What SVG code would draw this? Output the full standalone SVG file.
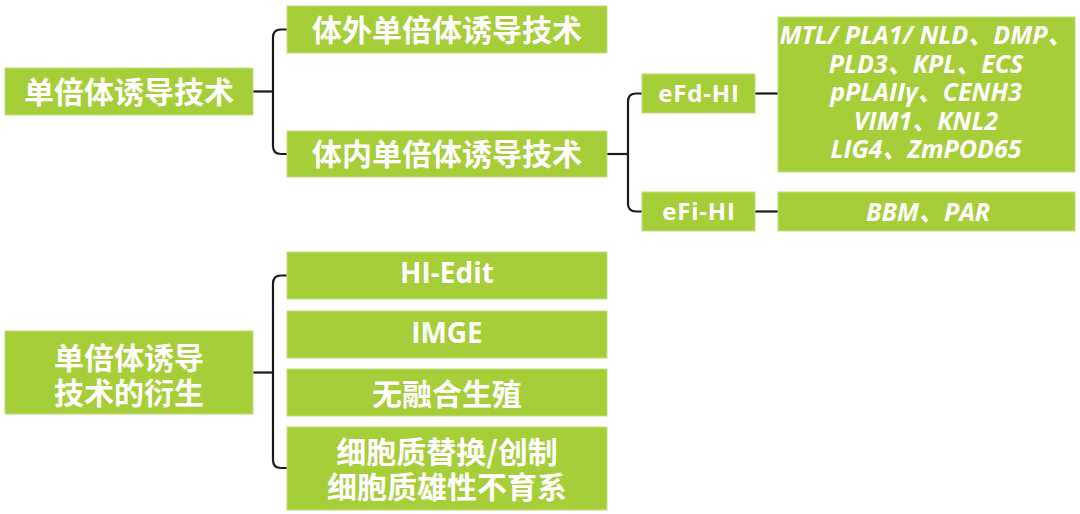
<svg xmlns="http://www.w3.org/2000/svg" width="1080" height="514" viewBox="0 0 1080 514">
<style>
.box{fill:#A6CE39;stroke:#C4DD7E;stroke-width:1}
.cn{font-family:"Noto Sans CJK SC","Open Sans",sans-serif;font-weight:bold;font-size:30px;fill:#fff;text-anchor:middle}
.lt{font-family:"Open Sans","Noto Sans CJK SC",sans-serif;font-weight:bold;fill:#fff;text-anchor:middle}
.gene{font-family:"Open Sans","Noto Sans CJK SC",sans-serif;font-weight:bold;font-style:italic;font-size:25px;fill:#fff;text-anchor:middle}
.conn{fill:none;stroke:#1a1a1a;stroke-width:2.2;stroke-linecap:butt}
</style>
<rect width="1080" height="514" fill="#fff"/>
<g id="connectors">
<path class="conn" d="M253,91.5 H273"/>
<path class="conn" d="M287,29.5 H281 Q273,29.5 273,37.5 V146 Q273,154 281,154 H287"/>
<path class="conn" d="M607,154 H628"/>
<path class="conn" d="M642,93.5 H636 Q628,93.5 628,101.5 V203.5 Q628,211.5 636,211.5 H642"/>
<path class="conn" d="M755,93.5 H778"/>
<path class="conn" d="M755,211.5 H778"/>
<path class="conn" d="M253,372.5 H273"/>
<path class="conn" d="M287,275.5 H281 Q273,275.5 273,283.5 V460 Q273,468 281,468 H287"/>
</g>
<g id="root1">
<rect class="box" x="5" y="68" width="248" height="47"/>
<text class="cn" x="129" y="102.5">单倍体诱导技术</text>
</g>
<g id="invitro">
<rect class="box" x="287" y="6" width="320" height="47"/>
<text class="cn" x="447" y="40.5">体外单倍体诱导技术</text>
</g>
<g id="invivo">
<rect class="box" x="287" y="131" width="320" height="46"/>
<text class="cn" x="447" y="165">体内单倍体诱导技术</text>
</g>
<g id="efd">
<rect class="box" x="642" y="74" width="113" height="39"/>
<text class="lt" x="699" y="102" font-size="24" letter-spacing="0.8">eFd-HI</text>
</g>
<g id="efi">
<rect class="box" x="642" y="192" width="113" height="39"/>
<text class="lt" x="699" y="220" font-size="24" letter-spacing="0.8">eFi-HI</text>
</g>
<g id="genes">
<rect class="box" x="778" y="17" width="297" height="155"/>
<text class="gene" x="926" y="44">MTL/ PLA1/ NLD、DMP、</text>
<text class="gene" x="926" y="72.5">PLD3、KPL、ECS</text>
<text class="gene" x="926" y="101">pPLAIIγ、CENH3</text>
<text class="gene" x="926" y="129.5">VIM1、KNL2</text>
<text class="gene" x="926" y="158">LIG4、ZmPOD65</text>
</g>
<g id="bbm">
<rect class="box" x="778" y="192" width="297" height="39"/>
<text class="gene" x="928" y="221">BBM、PAR</text>
</g>
<g id="root2">
<rect class="box" x="5" y="331" width="248" height="83"/>
<text class="cn" x="129" y="369">单倍体诱导</text>
<text class="cn" x="129" y="404">技术的衍生</text>
</g>
<g id="hiedit">
<rect class="box" x="287" y="252" width="320" height="47"/>
<text class="lt" x="447" y="283" font-size="28">HI-Edit</text>
</g>
<g id="imge">
<rect class="box" x="287" y="311" width="320" height="47"/>
<text class="lt" x="447" y="343" font-size="28">IMGE</text>
</g>
<g id="apomixis">
<rect class="box" x="287" y="369" width="320" height="47"/>
<text class="cn" x="447" y="405">无融合生殖</text>
</g>
<g id="cytoplasm">
<rect class="box" x="287" y="427" width="320" height="83"/>
<text class="cn" x="447" y="463">细胞质替换/创制</text>
<text class="cn" x="447" y="498">细胞质雄性不育系</text>
</g>
</svg>
